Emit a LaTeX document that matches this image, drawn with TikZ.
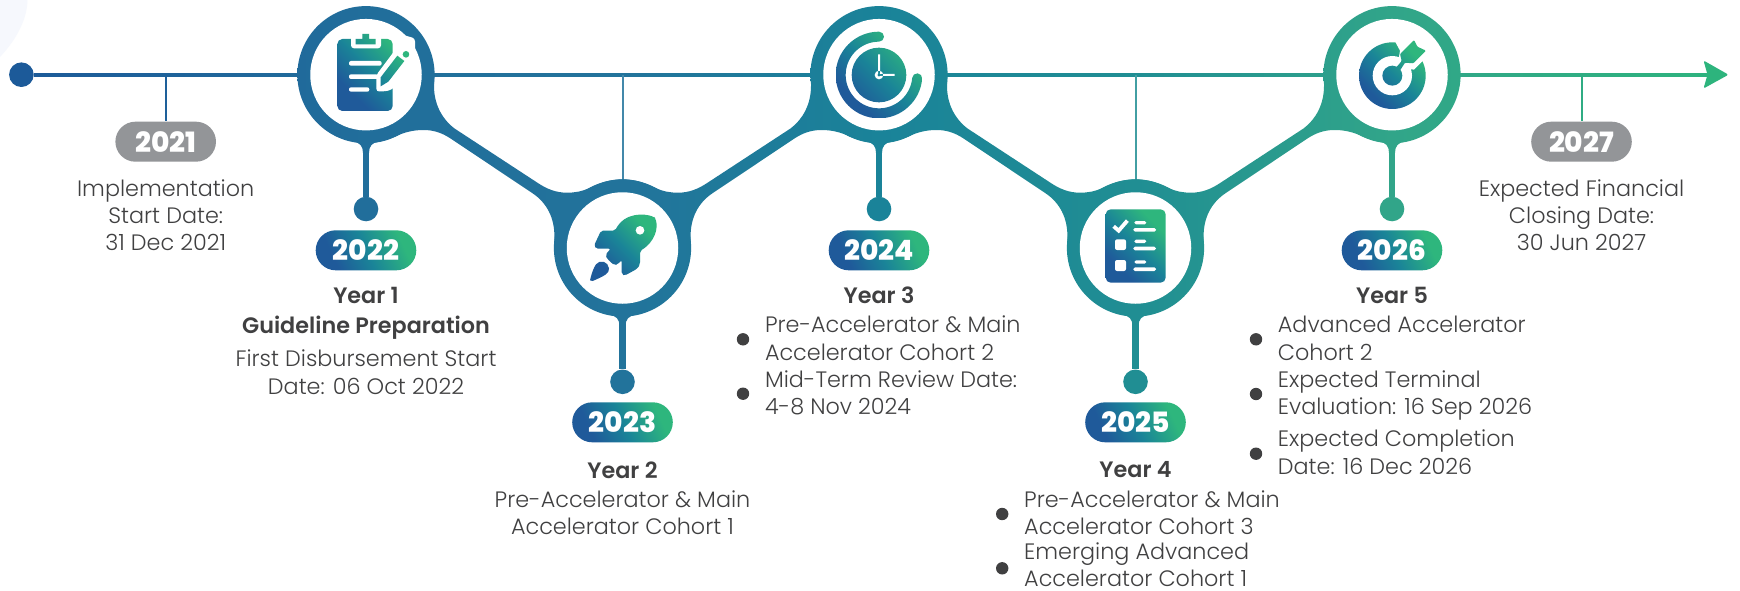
\documentclass[tikz,border=0pt]{standalone}
\usepackage{fontspec}
\setmainfont{Poppins}[UprightFont=* Light,BoldFont=* SemiBold]
\newfontfamily\pillfont{Poppins}[UprightFont=* ExtraBold]
\definecolor{cA}{HTML}{1C5A99}
\definecolor{cB}{HTML}{216E9B}
\definecolor{cC}{HTML}{22739B}
\definecolor{cD}{HTML}{1A8399}
\definecolor{cE}{HTML}{208E93}
\definecolor{cF}{HTML}{31A589}
\definecolor{cG}{HTML}{2DB47D}
\definecolor{iA}{HTML}{1F5A9A}
\definecolor{iB}{HTML}{1A8498}
\definecolor{iC}{HTML}{2EB67D}
\definecolor{tx}{HTML}{404041}
\definecolor{gy}{HTML}{939598}
\definecolor{pale}{HTML}{F6F8FD}
\pgfdeclarehorizontalshading{glob}{100bp}{color(0bp)=(cA);color(25.6bp)=(cA);color(35.515bp)=(cB);color(42.89bp)=(cC);color(50.26bp)=(cD);color(57.63bp)=(cE);color(65bp)=(cF);color(75bp)=(cG);color(100bp)=(cG)}
\pgfdeclarehorizontalshading{iconsh}{100bp}{color(0bp)=(iA);color(30bp)=(iA);color(50bp)=(iB);color(72bp)=(iC);color(100bp)=(iC)}
\newcommand\gradfill[2]{\begin{scope}\path[#1,clip] #2;\shade[shading=glob] (0,0) rectangle (1740,591);\end{scope}}
\newcommand\iconfill[3]{\begin{scope}\path[#1,clip] #2;\shade[shading=iconsh,shading angle=45] #3;\end{scope}}
\newcommand\bandpath{(622.5,179.3) .. controls (635,179.3) and (645,183) .. (655,187.7) .. controls (663,191.5) and (670,192.7) .. (678,192.7) .. controls (689,192.7) and (698,189) .. (706.7,183.3) -- (790.8,128.3) .. controls (803,119) and (811,104) .. (811,86) -- (811,74.7) -- (879,74.7) -- (879,143) .. controls (866,143) and (856,139.5) .. (846.3,135) .. controls (838,131.5) and (830,130) .. (821.5,130) .. controls (811,130) and (803,133) .. (794.7,138.3) -- (712.4,193.3) .. controls (698,203) and (690.6,218) .. (690.6,236) -- (690.6,248) -- (622.5,248) -- cycle}
\newcommand\flarepath[2]{({#1-14},{#2}) .. controls ({#1-6},{#2+1.5}) and ({#1-3},{#2+5}) .. ({#1-3},{#2+12}) -- ({#1+3},{#2+12}) .. controls ({#1+3},{#2+5}) and ({#1+6},{#2+1.5}) .. ({#1+14},{#2}) -- cycle}
\tikzset{
  axisline/.style={line width=2.7pt},
  ticklink/.style={line width=2pt},
  stemlink/.style={line width=6.2pt},
  enddot/.style={circle,inner sep=0,minimum size=24.6pt},
  hole/.style={circle,fill=white,inner sep=0,minimum size=111.5pt},
  pill/.style={rectangle,rounded corners=20pt,inner sep=0,minimum width=100.6pt,minimum height=40pt,text=white,font=\pillfont\fontsize{28}{28}\selectfont},
  gradpill/.style={pill,shading=iconsh,shading angle=25},
  greypill/.style={pill,fill=gy},
  txt/.style={anchor=base,align=center,inner sep=0,text=tx,font=\fontsize{22.3}{27.3}\selectfont},
  head/.style={anchor=base,inner sep=0,text=tx,font=\bfseries\fontsize{22.3}{27.3}\selectfont},
  item/.style={anchor=base west,align=left,inner sep=0,text=tx,font=\fontsize{22.3}{27.3}\selectfont},
  bul/.style={circle,fill=tx,inner sep=0,minimum size=12.4pt},
  icA/.style={shift={(325,25)},scale=1/3},
  icB/.style={shift={(580,205)},scale=1/3},
  icC/.style={shift={(830,25)},scale=1/3},
  icD/.style={shift={(1095,200)},scale=1/3},
  icE/.style={shift={(1350,30)},scale=1/3},
}
\begin{document}
\begin{tikzpicture}[x=1pt,y=-1pt]
\useasboundingbox (0,0) rectangle (1740,591);
\fill[white] (0,0) rectangle (1740,591);
\fill[pale] (0,0) -- (27.5,0) .. controls (27,22) and (14,42) .. (0,57) -- cycle;
% centres
\coordinate (c1) at (366,74.7);
\coordinate (c2) at (622.5,248);
\coordinate (c3) at (879,74.7);
\coordinate (c4) at (1135.5,248);
\coordinate (c5) at (1392,74.7);
\coordinate (axisend) at (1708,74.7);
\coordinate (t21) at (165.7,74.7);
\coordinate (t23) at (622.5,74.7);
\coordinate (t25) at (1135.5,74.7);
\coordinate (t27) at (1581.5,74.7);
% start dot
\node[enddot,fill=cA] (start) at (21.4,74.7) {};
% axis
\newcommand\axisseg[3]{\draw[axisline,#3] (#1) -- (#2);\begin{scope}\clip ([yshift=1.35pt]#1) rectangle ([yshift=-1.35pt]#2);\shade[shading=glob] (0,0) rectangle (1740,591);\end{scope}}
\axisseg{start.east}{c1}{cA!50!cB}\axisseg{c1}{c3}{cC}\axisseg{c3}{c5}{cE}\axisseg{c5}{axisend}{cF!50!cG}
\fill[cG,rounded corners=2pt] (1728.5,74.7) -- (1703.5,60.5) -- (1707.5,74.7) -- (1703.5,88.5) -- cycle;
% pills
\node[greypill] (p21) at (165.7,141.7) {2021};
\node[gradpill] (p22) at (366,250.3) {2022};
\node[gradpill] (p23) at (622.5,422.3) {2023};
\node[gradpill] (p24) at (879,250.3) {2024};
\node[gradpill] (p25) at (1135.5,422.3) {2025};
\node[gradpill] (p26) at (1392,250.3) {2026};
\node[greypill] (p27) at (1581.5,141.7) {2027};
% ticks
\draw[ticklink,cA!70!cB] (t21) -- (p21.north);
\draw[ticklink,cC!85!white] (t23) -- (622.5,180);
\draw[ticklink,cE!85!white] (t25) -- (1135.5,180);
\draw[ticklink,cF!50!cG] (t27) -- (p27.north);
% bands
\gradfill{cm={-1,0,0,1,(1245pt,0)}}{\bandpath}
\gradfill{shift={(0,0)}}{\bandpath}
\gradfill{cm={-1,0,0,1,(1758pt,0)}}{\bandpath}
\gradfill{xshift=513pt}{\bandpath}
% rings
\gradfill{shift={(0,0)}}{(c1) circle[radius=68.6]}
\gradfill{shift={(0,0)}}{(c2) circle[radius=68.6]}
\gradfill{shift={(0,0)}}{(c3) circle[radius=68.6]}
\gradfill{shift={(0,0)}}{(c4) circle[radius=68.6]}
\gradfill{shift={(0,0)}}{(c5) circle[radius=68.6]}
% end dots, stems, flares
\node[enddot,fill=cB] (d1) at (366,209) {};
\node[enddot,fill=cC] (d2) at (622.5,381.8) {};
\node[enddot,fill=cD] (d3) at (879,209) {};
\node[enddot,fill=cE] (d4) at (1135.5,381.8) {};
\node[enddot,fill=cF] (d5) at (1392,209) {};
\draw[stemlink,cB] (c1) -- (d1);
\draw[stemlink,cC] (c2) -- (d2);
\draw[stemlink,cD] (c3) -- (d3);
\draw[stemlink,cE] (c4) -- (d4);
\draw[stemlink,cF] (c5) -- (d5);
\gradfill{shift={(0,0)}}{\flarepath{366}{141}}
\gradfill{shift={(0,0)}}{\flarepath{622.5}{314.3}}
\gradfill{shift={(0,0)}}{\flarepath{879}{141}}
\gradfill{shift={(0,0)}}{\flarepath{1135.5}{314.3}}
\gradfill{shift={(0,0)}}{\flarepath{1392}{141}}
% white holes
\node[hole] (r1) at (c1) {};
\node[hole] (r2) at (c2) {};
\node[hole] (r3) at (c3) {};
\node[hole] (r4) at (c4) {};
\node[hole] (r5) at (c5) {};
% ---- icon 1 clipboard
\newcommand\boxA{(337,34) rectangle (409,111)}
\iconfill{icA,rounded corners=5pt}{(37,42) rectangle (203,258)}{\boxA}
\fill[white,icA,rounded corners=3pt] (78,30) -- (168,30) -- (168,70) -- (78,70) -- cycle;
\iconfill{icA}{(92,42) -- (112,42) -- (112,27) -- (132,27) -- (132,42) -- (152,42) -- (152,58) -- (92,58) -- cycle}{\boxA}
\fill[white,icA,rounded corners=2pt] (72,108) rectangle (170,122) (72,148) rectangle (160,162) (72,187) rectangle (133,200);
\fill[white,icA,rounded corners=3pt] (154,200) -- (154,150) -- (208,78) -- (235,30) -- (270,40) -- (270,110) -- (250,115) -- (208,188) -- (190,198) -- cycle;
\iconfill{icA}{(167,184) -- (167,157) -- (217,92) -- (238,108) -- (190,170) -- cycle}{\boxA}
\iconfill{icA}{(243,88) circle[radius=10]}{\boxA}
% ---- icon 2 rocket
\newcommand\boxB{(589,213) rectangle (658,282)}
\iconfill{icB,rounded corners=2pt}{(222,36) .. controls (195,26) and (135,20) .. (105,77) -- (63,77) -- (42,122) -- (48,131) -- (92,131) -- (76,150) -- (82,162) -- (103,181) -- (113,178) -- (125,165) -- (125,208) -- (134,212) -- (172,191) -- (180,178) -- (180,138) .. controls (225,110) and (235,70) .. (226,40) -- cycle}{\boxB}
\fill[white,icB] (180,76) circle[radius=13];
\iconfill{icB}{(30,226) .. controls (35,205) and (40,190) .. (48,178) .. controls (60,162) and (85,170) .. (87,190) .. controls (88,205) and (75,212) .. (38,228) -- cycle}{\boxB}
% ---- icon 3 clock
\newcommand\boxC{(836,32) rectangle (922,118)}
\iconfill{icC}{(147,20) arc[start angle=-90,end angle=-355,radius=130] arc[start angle=-355,end angle=-535,radius=15] arc[start angle=-355,end angle=-90,radius=100] arc[start angle=90,end angle=-90,radius=15] -- cycle}{\boxC}
\iconfill{icC}{(147,150) circle[radius=82]}{\boxC}
\fill[white,icC] (144,88) rectangle (150,150) (147,147) rectangle (194,153) (147,150) circle[radius=13];
\iconfill{icC}{(147,150) circle[radius=5]}{\boxC}
% ---- icon 4 checklist
\newcommand\boxD{(1105,209) rectangle (1166,283)}
\iconfill{icD,rounded corners=5pt}{(32,28) rectangle (212,248)}{\boxD}
\draw[white,icD,line width=3.8pt] (56,79) -- (71,92) -- (97,62);
\fill[white,icD,rounded corners=1.6pt] (118,63) rectangle (154,73) (115,84) rectangle (183,95) (118,119) rectangle (154,129) (115,140) rectangle (183,151) (118,181) rectangle (154,191) (115,202) rectangle (183,213);
\fill[white,icD,rounded corners=2pt] (60,118) rectangle (93,150) (60,180) rectangle (93,213);
% ---- icon 5 target
\newcommand\boxE{(1359,40) rectangle (1426,111)}
\iconfill{icE}{(127,137) circle[radius=100]}{\boxE}
\fill[white,icE] (127,137) circle[radius=59];
\fill[white,icE] (135,34) -- (150,62) -- (143,105) -- (165,115) -- (192,119) -- (218,93) -- (245,40) -- (190,10) -- cycle;
\iconfill{icE}{(127,137) circle[radius=30]}{\boxE}
\iconfill{icE,rounded corners=1pt}{(192,30) -- (202,50) -- (228,62) -- (190,100) -- (165,98) -- (135,145) -- (122,132) -- (155,93) -- (150,72) -- cycle}{\boxE}
% ---- texts (anchored on the baseline of the last line)
\node[txt] (l21) at (165.7,250.7) {Implementation\\Start Date:\\31 Dec 2021};
\node[head] (h1) at (366,303) {Year 1};
\node[head] (h1b) at (366,333) {Guideline Preparation};
\node[txt] (l22) at (366,394) {First Disbursement Start\\Date: 06 Oct 2022};
\node[head] (h2) at (622.5,478) {Year 2};
\node[txt] (l23) at (622.5,534.7) {Pre-Accelerator \& Main\\Accelerator Cohort 1};
\node[head] (h3) at (879,303) {Year 3};
\node[bul] (b3a) at (743,339.3) {};
\node[item] (l3a) at (764.8,360) {Pre-Accelerator \& Main\\Accelerator Cohort 2};
\node[bul] (b3b) at (743,393.7) {};
\node[item] (l3b) at (764.8,414.7) {Mid-Term Review Date:\\4-8 Nov 2024};
\node[head] (h4) at (1135.5,477.5) {Year 4};
\node[bul] (b4a) at (1002.2,514) {};
\node[item] (l4a) at (1024,534.5) {Pre-Accelerator \& Main\\Accelerator Cohort 3};
\node[bul] (b4b) at (1002.2,568.3) {};
\node[item] (l4b) at (1024,586.5) {Emerging Advanced\\Accelerator Cohort 1};
\node[head] (h5) at (1392,303) {Year 5};
\node[bul] (b5a) at (1256,339.3) {};
\node[item] (l5a) at (1277.7,360) {Advanced Accelerator\\Cohort 2};
\node[bul] (b5b) at (1256,394) {};
\node[item] (l5b) at (1277.7,414.5) {Expected Terminal\\Evaluation: 16 Sep 2026};
\node[bul] (b5c) at (1256,453.7) {};
\node[item] (l5c) at (1277.7,474) {Expected Completion\\Date: 16 Dec 2026};
\node[txt] (l27) at (1581.5,250.7) {Expected Financial\\Closing Date:\\30 Jun 2027};
\end{tikzpicture}
\end{document}
